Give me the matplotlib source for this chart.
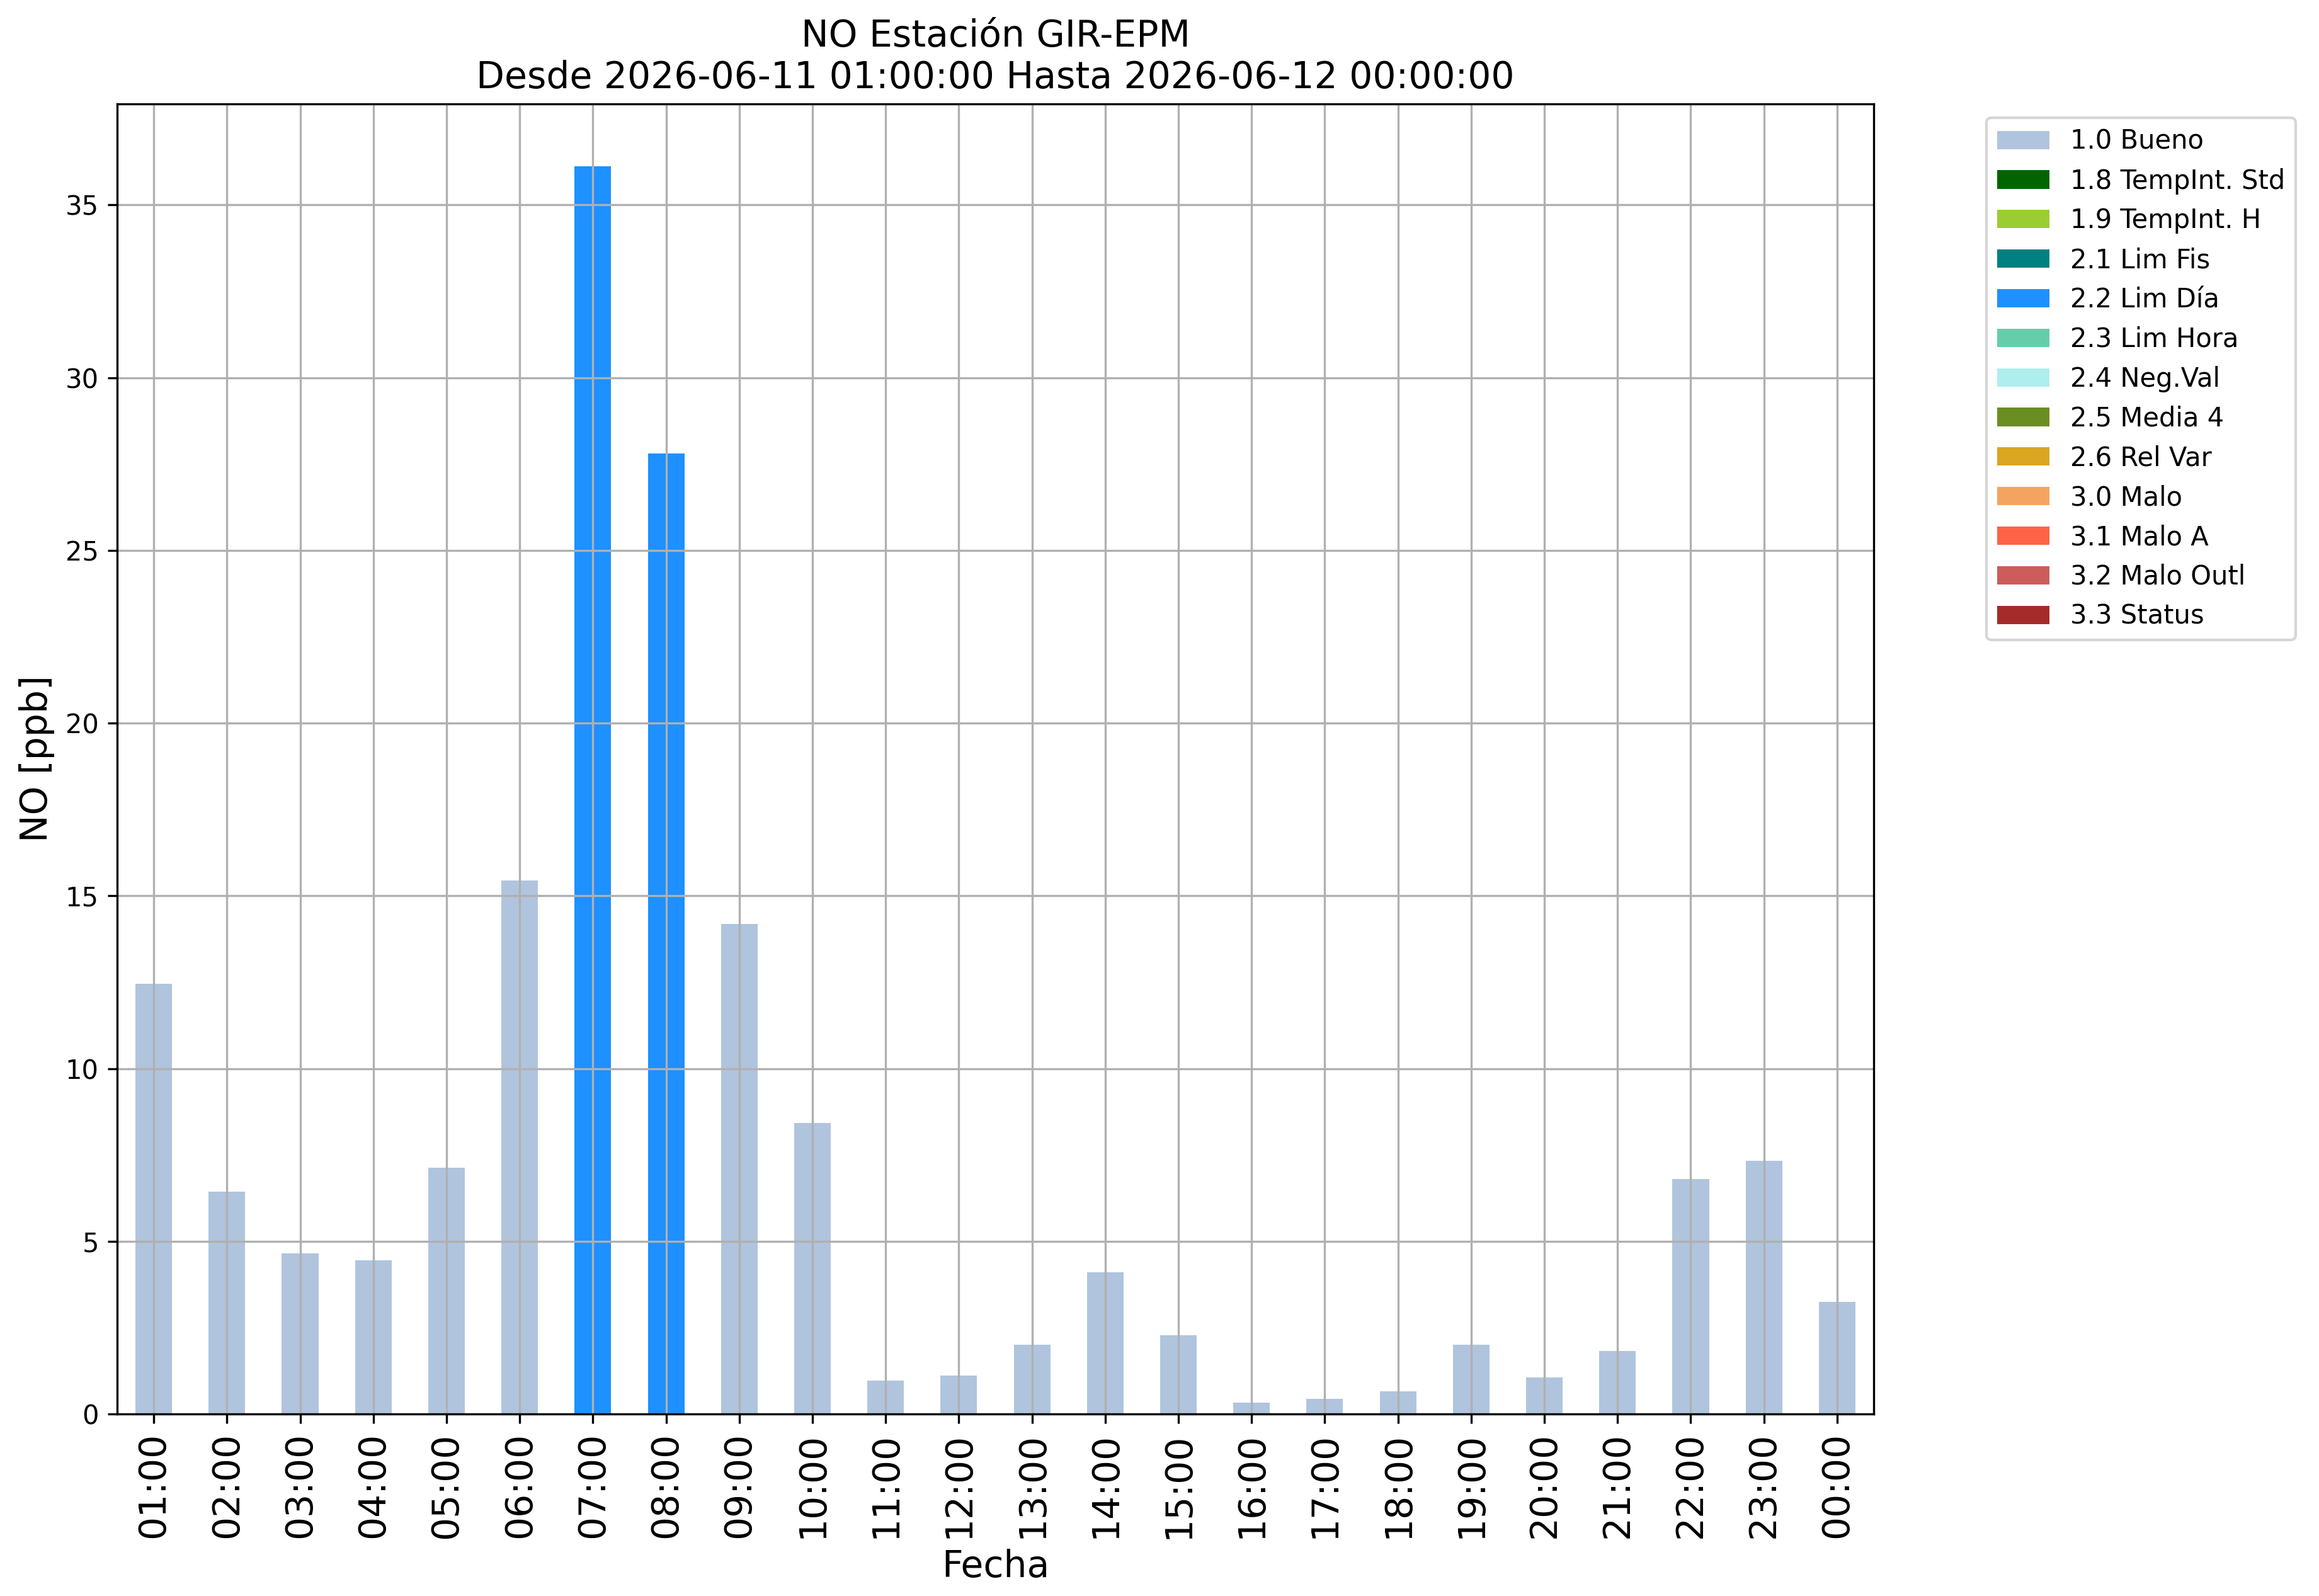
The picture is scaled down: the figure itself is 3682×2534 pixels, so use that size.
import matplotlib
matplotlib.use("Agg")
import matplotlib.pyplot as plt
import numpy as np

# hourly NO values [ppb], 2026-06-11 01:00 .. 2026-06-12 00:00
hours = ["01:00", "02:00", "03:00", "04:00", "05:00", "06:00", "07:00", "08:00",
         "09:00", "10:00", "11:00", "12:00", "13:00", "14:00", "15:00", "16:00",
         "17:00", "18:00", "19:00", "20:00", "21:00", "22:00", "23:00", "00:00"]
no_values = [12.46, 6.44, 4.65, 4.45, 7.13, 15.45, 36.12, 27.81,
             14.18, 8.43, 0.96, 1.11, 2.01, 4.10, 2.28, 0.33,
             0.44, 0.65, 2.01, 1.06, 1.82, 6.80, 7.33, 3.25]
flags = ["1.0 Bueno"] * 6 + ["2.2 Lim Día"] * 2 + ["1.0 Bueno"] * 16

categories = ["1.0 Bueno", "1.8 TempInt. Std", "1.9 TempInt. H", "2.1 Lim Fis",
              "2.2 Lim Día", "2.3 Lim Hora", "2.4 Neg.Val", "2.5 Media 4",
              "2.6 Rel Var", "3.0 Malo", "3.1 Malo A", "3.2 Malo Outl", "3.3 Status"]
cat_colors = ["lightsteelblue", "darkgreen", "yellowgreen", "teal",
              "dodgerblue", "mediumaquamarine", "paleturquoise", "olivedrab",
              "goldenrod", "sandybrown", "tomato", "indianred", "brown"]

W, H, DPI = 3682, 2534, 300
fig = plt.figure(figsize=(W / DPI, H / DPI), dpi=DPI)
ax = fig.add_axes([186 / W, 1 - 2245 / H, (2975 - 186) / W, (2245 - 165) / H])

x = np.arange(len(hours))
vals = np.array(no_values)
flg = np.array(flags)
bottom = np.zeros(len(hours))
for cat, col in zip(categories, cat_colors):
    h = np.where(flg == cat, vals, 0.0)
    ax.bar(x, h, width=0.5, bottom=bottom, color=col, label=cat)
    bottom += h

ax.set_xlim(-0.5, len(hours) - 0.5)
# stacked zero-height bars pin the autoscale, so add the usual 5% headroom
ax.set_ylim(0, vals.max() * 1.05)
ax.set_xticks(x)
ax.set_xticklabels(hours, rotation=90, fontsize=14)
ax.tick_params(axis="y", labelsize=10)
ax.grid(True)
ax.set_xlabel("Fecha", fontsize=14)
ax.set_ylabel("NO [ppb]", fontsize=14)
ax.set_title("NO Estación GIR-EPM\nDesde 2026-06-11 01:00:00 Hasta 2026-06-12 00:00:00",
             fontsize=14)

fig.legend(loc="upper left", bbox_to_anchor=(3154 / W, 1 - 187 / H),
           borderaxespad=0, fontsize=10)

fig.savefig("out.png", dpi=DPI)
